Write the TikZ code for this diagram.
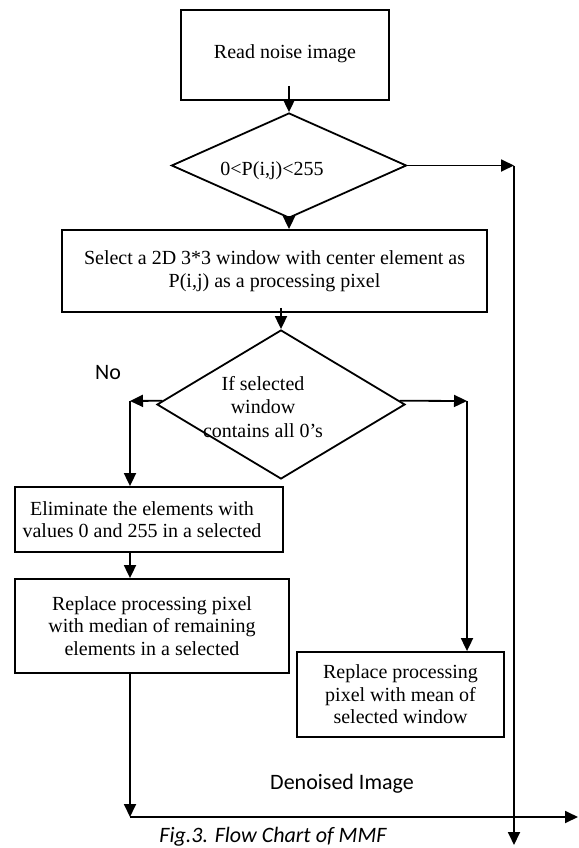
\documentclass[tikz,border=0pt]{standalone}
\usepackage{fontspec}
\setmainfont{Liberation Serif}
\newfontfamily\calfont{Carlito}
\usetikzlibrary{shapes.geometric,arrows.meta,calc}
\begin{document}
\begin{tikzpicture}[x=1pt,y=-1pt,
  box/.style={draw, line width=1.8pt, align=center, inner sep=0pt, font=\fontsize{20}{22.5}\selectfont},
  dia/.style={draw, diamond, line width=1.8pt, inner sep=0pt},
  arr/.style={line width=1.8pt, -{Triangle[length=13pt,width=12pt]}},
  txt/.style={align=center, font=\fontsize{20}{23.5}\selectfont, inner sep=0pt},
  lab/.style={font=\calfont\fontsize{22}{26}\selectfont, inner sep=0pt}]
\useasboundingbox (0,0) rectangle (578,848);

\node[box, minimum width=208pt, minimum height=90pt] (b1) at (285,55) {\raisebox{6pt}{Read noise image}};
\node[dia, minimum width=235pt, minimum height=105pt] (d1) at (289,165.5) {};
\node[txt] (t1) at (272,171) {0<P(i,j)<255};
\node[box, minimum width=425pt, minimum height=82pt] (b2) at (274.5,271) {Select a 2D 3*3 window with center element as\\P(i,j) as a processing pixel};
\node[dia, minimum width=248pt, minimum height=149pt] (d2) at (281,404.5) {};
\node[txt] (t2) at (263,407) {If selected\\window\\contains all 0's};
\node[box, minimum width=268pt, minimum height=65pt] (b3) at (149,519.5) {Eliminate the elements with\hspace*{14pt}\\values 0 and 255 in a selected\hspace*{14pt}};
\node[box, minimum width=274pt, minimum height=94pt] (b4) at (152,626) {Replace processing pixel\\with median of remaining\\elements in a selected};
\node[box, minimum width=207pt, minimum height=85pt] (b5) at (400.5,694.5) {Replace processing\\pixel with mean of\\selected window};

\node[lab] (no) at (108,373) {No};
\node[lab] (den) at (342,784) {Denoised Image};
\node[lab, font=\calfont\itshape\fontsize{22}{26}\selectfont] (cap) at (273,837) {Fig.3. Flow Chart of MMF};

\coordinate (r1) at (514,165.5);
\coordinate (rend) at (514,845);
\coordinate (nl) at (130,401);
\coordinate (nr) at (467,401);
\coordinate (bl) at (130,817);
\coordinate (br) at (578,817);

\draw[arr] ([yshift=15pt]b1.south -| d1.north) -- (d1.north);
\draw[arr] (d1.south) -- (d1.south |- b2.north);
\draw[arr] (d1.east) -- (r1);
\draw[arr] (r1) -- (rend);
\draw[arr] ([yshift=5pt]b2.south -| d2.north) -- (d2.north);
\draw[arr] ($(d2.west)!0.05!(d2.north)$) -- (nl);
\draw[arr] (nl) -- (nl |- b3.north);
\draw[arr] ($(d2.east)!0.05!(d2.north)$) -- (nr);
\draw[arr] (nr) -- (nr |- b5.north);
\draw[arr] (nl |- b3.south) -- (nl |- b4.north);
\draw[arr] (nl |- b4.south) -- (bl);
\draw[arr] (bl) -- (br);
\end{tikzpicture}
\end{document}
